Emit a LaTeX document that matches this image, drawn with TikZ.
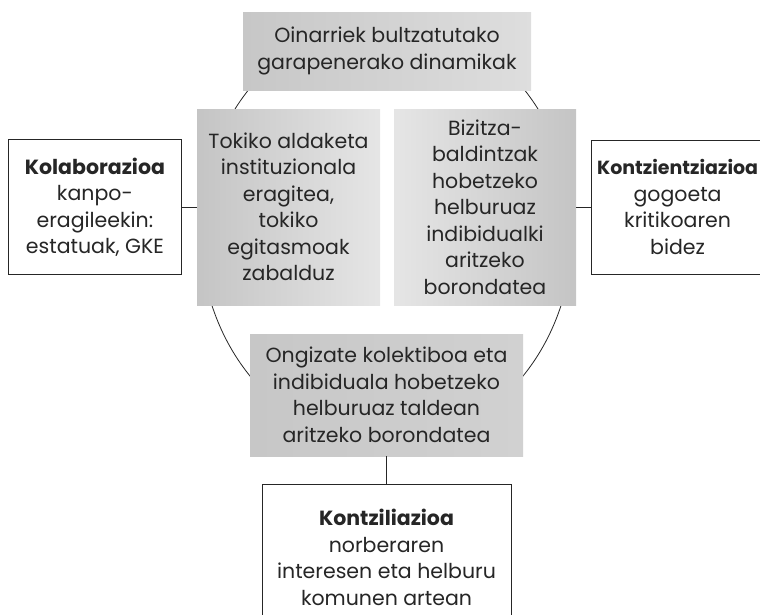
\documentclass[tikz,border=0pt]{standalone}
\usepackage{fontspec}
\setmainfont{Poppins}
\usetikzlibrary{positioning}

\tikzset{
  txt/.style={font=\fontsize{20.5}{26.5}\selectfont, text=black!85, align=center},
  shadebox/.style={txt, inner sep=0pt, draw=none},
  whitebox/.style={txt, draw=black!85, line width=0.8pt, fill=white, inner sep=0pt},
  link/.style={draw=black!85, line width=0.8pt}
}

\begin{document}
\begin{tikzpicture}[x=1pt, y=-1pt]
  \useasboundingbox (0,0) rectangle (760,614);
  \clip (0,0) rectangle (760,614);
  % ring behind the shaded boxes
  \draw[link] (386.5,232) ellipse [x radius=186, y radius=212];
  \node[shadebox, left color=gray!44, right color=gray!26,
        minimum width=288pt, minimum height=78pt] (top) at (387,51)
        {Oinarriek bultzatutako\\garapenerako dinamikak};
  \node[shadebox, left color=gray!46, right color=gray!20,
        minimum width=183pt, minimum height=196pt] (lgray) at (288.5,207)
        {Tokiko aldaketa\\instituzionala\\eragitea,\\tokiko\\egitasmoak\\zabalduz};
  \node[shadebox, left color=gray!20, right color=gray!46,
        minimum width=182pt, minimum height=196pt] (rgray) at (485,207)
        {Bizitza-\\baldintzak\\hobetzeko\\helburuaz\\indibidualki\\aritzeko\\borondatea};
  \node[shadebox, left color=gray!44, middle color=gray!22, right color=gray!36,
        minimum width=273pt, minimum height=122pt] (bgray) at (386.5,395)
        {Ongizate kolektiboa eta\\indibiduala hobetzeko\\helburuaz taldean\\aritzeko borondatea};
  \node[whitebox, minimum width=173pt, minimum height=135pt, left=15pt of lgray] (kolab)
        {\textbf{Kolaborazioa}\\kanpo-\\eragileekin:\\estatuak, GKE};
  \node[whitebox, minimum width=172pt, minimum height=134pt, right=15pt of rgray] (kontz)
        {{\fontsize{19}{26.5}\selectfont\textbf{Kontzientziazioa}}\\gogoeta\\kritikoaren\\bidez};
  \node[whitebox, minimum width=249pt, minimum height=146pt, below=28pt of bgray] (konzil)
        {\textbf{Kontziliazioa}\\norberaren\\interesen eta helburu\\komunen artean};
  \draw[link] (kolab) -- (lgray);
  \draw[link] (rgray) -- (kontz);
  \draw[link] (bgray) -- (konzil);
\end{tikzpicture}
\end{document}
